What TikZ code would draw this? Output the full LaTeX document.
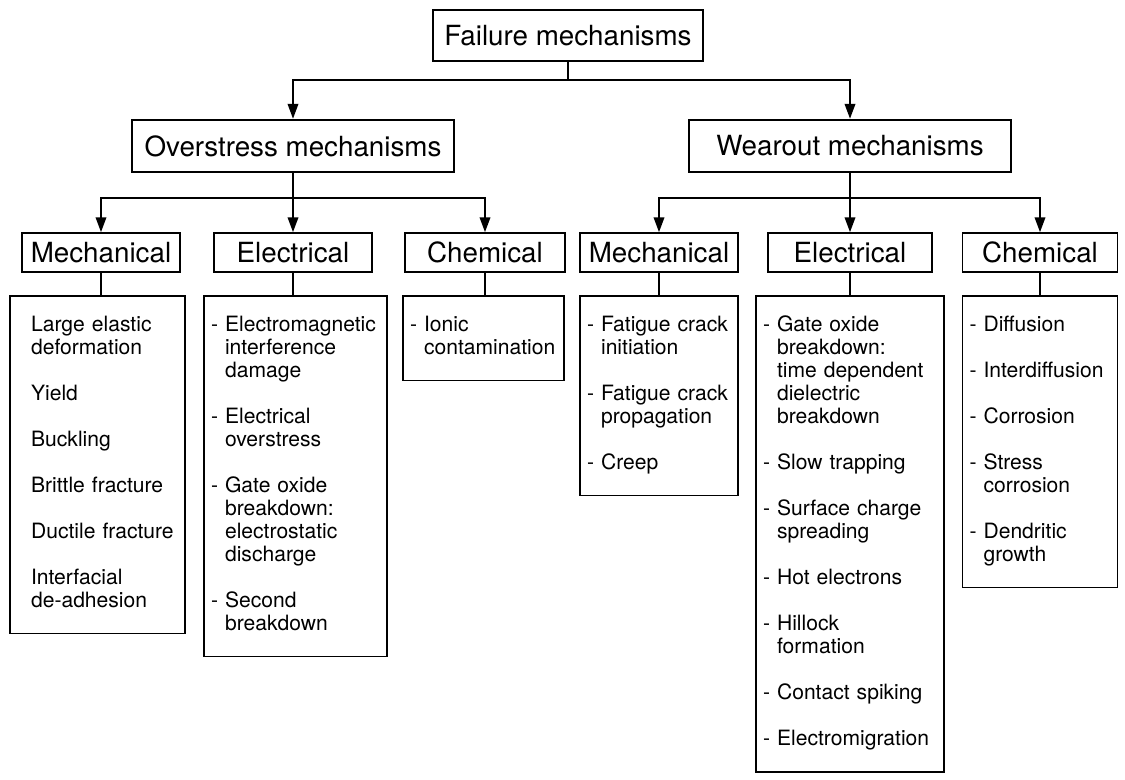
\documentclass[tikz,border=0pt]{standalone}
\usepackage{fontspec}
\setmainfont{TeX Gyre Heros}
\usetikzlibrary{arrows.meta}
\newcommand{\hdfont}{\fontsize{15.8}{18}\selectfont}
\newcommand{\lsfont}{\fontsize{12}{13.1}\selectfont}
\newcommand{\ngap}{\\[13.1pt]}

\begin{document}
\begin{tikzpicture}[x=0.02cm,y=-0.02cm,
  box/.style n args={2}{draw,line width=1.4pt,minimum width=#1*0.02cm,minimum height=#2*0.02cm,inner sep=0pt,font=\hdfont},
  cat/.style={draw,line width=0.9pt,minimum width=#1*0.02cm,minimum height=39*0.02cm,inner sep=0pt,font=\hdfont},
  lst/.style={draw,line width=0.9pt,anchor=north,inner xsep=4pt,inner ysep=11pt,text width=#1,align=left,font=\lsfont},
  conn/.style={line width=1.1pt},
  arr/.style={conn,-{Triangle[length=8.5pt,width=6pt]}}]
\useasboundingbox (0,0) rectangle (1125,780);
% top levels
\node[box={270}{51}] (fail) at (568,35.5) {Failure mechanisms};
\node[box={322}{52}] (over) at (293,146) {Overstress mechanisms};
\node[box={322}{52}] (wear) at (850,146) {Wearout mechanisms};
% categories
\foreach \n/\x/\w/\t in {m1/101/158/Mechanical,e1/293/158/Electrical,c1/485/160/Chemical,
    m2/659/158/Mechanical,e2/850/164/Electrical,c2/1040/155/Chemical}
  \node[cat=\w] (\n) at (\x,252.5) {\t};
% lists
\node[lst=3.22cm] (dm1) at (97.5,295) {\begin{tabular}{@{}l@{ }l@{}}
\phantom{-} & Large elastic\\ & deformation\ngap
 & Yield\ngap
 & Buckling\ngap
 & Brittle fracture\ngap
 & Ductile fracture\ngap
 & Interfacial\\ & de-adhesion
\end{tabular}};
\node[lst=3.38cm] (de1) at (295.5,295) {\begin{tabular}{@{}l@{ }l@{}}
- & Electromagnetic\\ & interference\\ & damage\ngap
- & Electrical\\ & overstress\ngap
- & Gate oxide\\ & breakdown:\\ & electrostatic\\ & discharge\ngap
- & Second\\ & breakdown
\end{tabular}};
\node[lst=2.94cm] (dc1) at (483.5,295) {\begin{tabular}{@{}l@{ }l@{}}
- & Ionic\\ & contamination
\end{tabular}};
\node[lst=2.88cm] (dm2) at (659,295) {\begin{tabular}{@{}l@{ }l@{}}
- & Fatigue crack\\ & initiation\ngap
- & Fatigue crack\\ & propagation\ngap
- & Creep
\end{tabular}};
\node[lst=3.48cm] (de2) at (850,295) {\begin{tabular}{@{}l@{ }l@{}}
- & Gate oxide\\ & breakdown:\\ & time dependent\\ & dielectric\\ & breakdown\ngap
- & Slow trapping\ngap
- & Surface charge\\ & spreading\ngap
- & Hot electrons\ngap
- & Hillock\\ & formation\ngap
- & Contact spiking\ngap
- & Electromigration
\end{tabular}};
\node[lst=2.82cm] (dc2) at (1040,295) {\begin{tabular}{@{}l@{ }l@{}}
- & Diffusion\ngap
- & Interdiffusion\ngap
- & Corrosion\ngap
- & Stress\\ & corrosion\ngap
- & Dendritic\\ & growth
\end{tabular}};
% connectors
\coordinate (j0) at (568,80);
\path (over.south) ++(0,25) coordinate (j1);
\path (wear.south) ++(0,25) coordinate (j2);
\draw[conn] (fail) -- (j0);
\draw[arr] (j0) -| (over);
\draw[arr] (j0) -| (wear);
\draw[conn] (over) -- (j1);
\draw[conn] (wear) -- (j2);
\foreach \c in {m1,e1,c1}
  \draw[arr] (j1) -| (\c);
\foreach \c in {m2,e2,c2}
  \draw[arr] (j2) -| (\c);
\foreach \c in {m1,e1,c1,m2,e2,c2}
  \draw[conn] (\c) -- (\c |- d\c.north);
\end{tikzpicture}
\end{document}
